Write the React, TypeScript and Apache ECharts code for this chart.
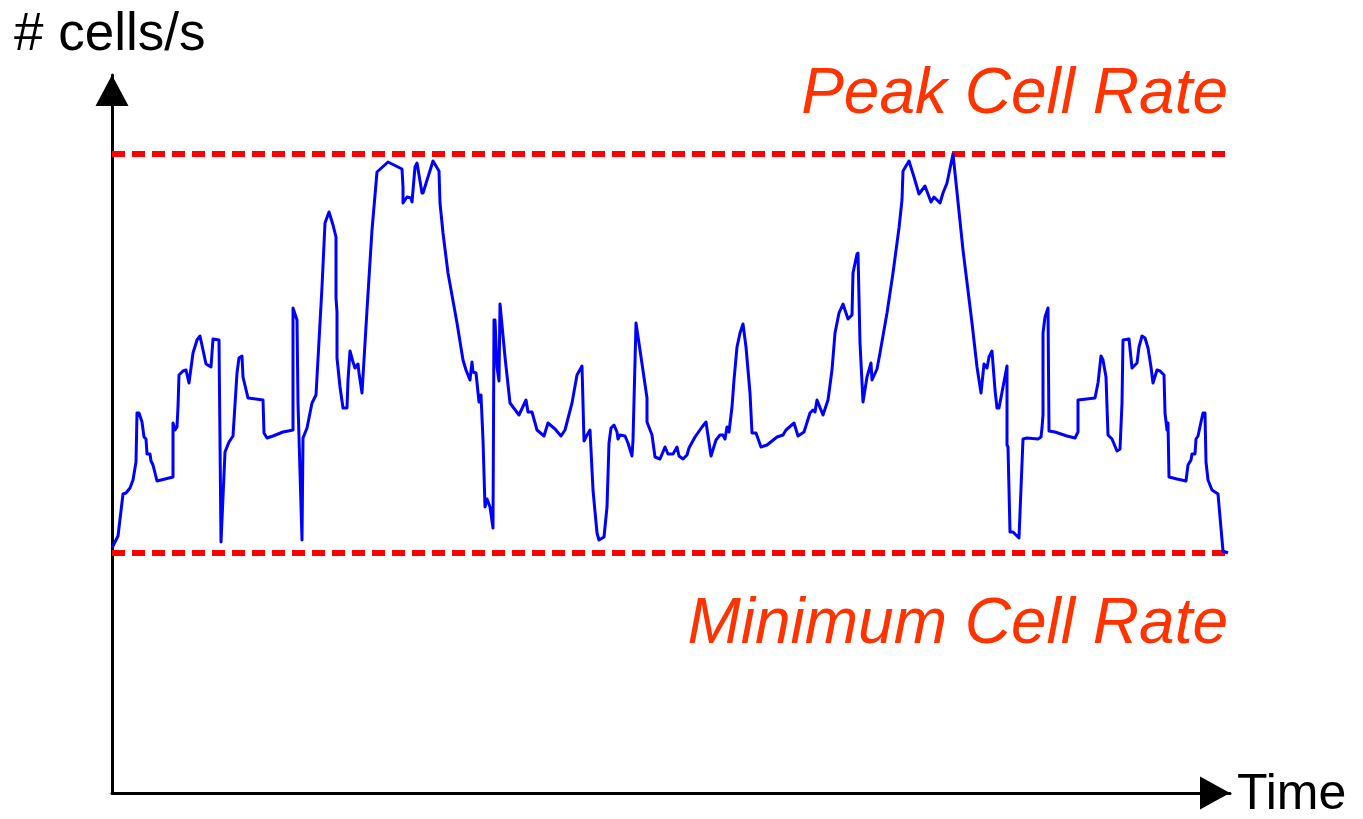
import React, { useEffect, useRef } from "react";
import * as echarts from "echarts";

// Time axis (arbitrary units) and rate axis (cells/s, arbitrary units)
const timeRange = [0, 1118];
const rateRange = [0, 718];

const peakCellRate = 639;
const minimumCellRate = 240;
const dashedLineSpan = [0, 1114];

const axisNames = { y: "# cells/s", x: "Time" };
const rateLabels = { peak: "Peak Cell Rate", minimum: "Minimum Cell Rate" };

// Observed traffic: [time, cells/s]
const trafficSamples: [number, number][] = [
  [0, 245], [6, 257], [11, 299], [14, 300], [18, 305], [21, 313], [24, 331], [25, 380], [27, 380], [30, 371],
  [32, 356], [34, 354], [35, 339], [38, 339], [39, 332], [41, 328], [45, 312], [61, 316], [61, 370], [63, 363],
  [65, 366], [66, 386], [67, 418], [71, 422], [74, 423], [77, 410], [81, 440], [85, 453], [88, 457], [91, 443],
  [94, 429], [99, 426], [101, 454], [107, 453], [109, 251], [113, 341], [117, 351], [121, 357], [125, 420], [127, 435],
  [130, 437], [131, 416], [136, 395], [151, 393], [152, 360], [155, 355], [161, 357], [171, 361], [181, 363], [181, 485],
  [185, 473], [186, 390], [190, 253], [191, 355], [195, 365], [200, 390], [204, 398], [210, 506], [213, 570], [217, 581],
  [221, 568], [224, 556], [224, 495], [225, 481], [225, 435], [228, 406], [231, 385], [235, 385], [236, 413], [238, 442],
  [241, 431], [243, 425], [246, 429], [247, 420], [250, 400], [255, 483], [260, 563], [265, 621], [276, 631], [288, 625],
  [290, 624], [291, 606], [291, 590], [295, 596], [299, 595], [300, 591], [303, 626], [305, 630], [310, 600], [311, 600],
  [321, 632], [327, 622], [328, 590], [331, 560], [336, 520], [345, 470], [351, 433], [354, 423], [358, 413], [360, 431],
  [361, 421], [364, 420], [367, 391], [369, 398], [371, 353], [373, 286], [375, 294], [378, 286], [381, 265], [382, 473],
  [383, 473], [385, 426], [387, 412], [388, 489], [393, 436], [398, 390], [401, 386], [407, 378], [414, 393], [416, 381],
  [420, 381], [425, 363], [432, 357], [436, 370], [443, 364], [449, 357], [453, 363], [460, 390], [465, 418], [470, 427],
  [472, 352], [475, 358], [478, 363], [481, 303], [485, 260], [487, 253], [492, 256], [495, 286], [497, 350], [499, 365],
  [502, 368], [505, 361], [506, 354], [508, 358], [513, 357], [516, 350], [520, 337], [521, 353], [524, 470], [528, 443],
  [535, 395], [535, 371], [540, 358], [543, 336], [548, 334], [553, 346], [556, 339], [561, 339], [565, 346], [567, 337],
  [571, 334], [575, 338], [577, 345], [583, 356], [590, 366], [594, 371], [599, 337], [604, 353], [608, 358], [611, 358],
  [613, 354], [615, 366], [617, 361], [620, 386], [622, 413], [625, 446], [628, 460], [631, 469], [634, 446], [638, 400],
  [640, 360], [644, 360], [649, 346], [655, 348], [665, 356], [671, 358], [674, 363], [682, 370], [686, 357], [692, 361],
  [698, 380], [701, 383], [703, 381], [705, 393], [711, 378], [716, 393], [720, 423], [723, 460], [727, 480], [731, 489],
  [736, 474], [740, 478], [741, 520], [745, 539], [746, 540], [748, 450], [751, 391], [755, 416], [759, 430], [760, 413],
  [765, 424], [768, 440], [775, 480], [781, 520], [787, 565], [790, 593], [791, 622], [797, 632], [802, 616], [807, 599],
  [813, 607], [819, 591], [822, 596], [828, 590], [831, 600], [835, 610], [841, 639], [843, 620], [851, 543], [860, 470],
  [865, 426], [869, 400], [872, 429], [875, 425], [877, 436], [880, 442], [883, 403], [885, 385], [887, 385], [891, 406],
  [895, 427], [895, 370], [895, 348], [896, 346], [898, 261], [901, 261], [907, 255], [911, 354], [915, 355], [926, 354],
  [929, 356], [930, 365], [931, 378], [931, 460], [933, 476], [936, 485], [937, 362], [943, 361], [955, 357], [963, 355],
  [966, 361], [966, 393], [983, 395], [986, 410], [989, 437], [991, 433], [994, 416], [996, 358], [1000, 354], [1005, 342],
  [1008, 344], [1010, 390], [1011, 453], [1017, 454], [1020, 425], [1025, 430], [1027, 446], [1030, 457], [1033, 455], [1036, 445],
  [1039, 426], [1041, 410], [1045, 423], [1048, 422], [1052, 418], [1053, 380], [1055, 363], [1056, 370], [1057, 316], [1065, 314],
  [1074, 312], [1076, 328], [1079, 333], [1080, 339], [1083, 339], [1084, 354], [1086, 357], [1089, 371], [1091, 380], [1093, 380],
  [1094, 331], [1096, 313], [1100, 303], [1106, 299], [1111, 242], [1116, 240],
];

const FONT = '"Liberation Sans", Arial, Helvetica, sans-serif';

export default function App() {
  const ref = useRef<HTMLDivElement>(null);

  useEffect(() => {
    if (!ref.current) return;
    const chart = echarts.init(ref.current, null, { renderer: "svg" });

    const axisCommon = {
      axisTick: { show: false },
      axisLabel: { show: false },
      splitLine: { show: false },
    };

    chart.setOption({
      animation: false,
      backgroundColor: "#ffffff",
      grid: { left: 112, right: 133, top: 75, bottom: 26, containLabel: false },
      xAxis: {
        type: "value",
        min: timeRange[0],
        max: timeRange[1],
        ...axisCommon,
        axisLine: {
          show: true,
          onZero: false,
          symbol: ["none", "triangle"],
          symbolSize: [33, 30],
          symbolOffset: [0, -15],
          lineStyle: { color: "#000000", width: 3 },
        },
      },
      yAxis: {
        type: "value",
        min: rateRange[0],
        max: rateRange[1],
        ...axisCommon,
        axisLine: {
          show: true,
          onZero: false,
          symbol: ["none", "triangle"],
          symbolSize: [33, 31],
          symbolOffset: [0, -15.5],
          lineStyle: { color: "#000000", width: 3 },
        },
      },
      series: [
        {
          name: rateLabels.peak,
          type: "line",
          showSymbol: false,
          silent: true,
          data: [
            [dashedLineSpan[0], peakCellRate],
            [dashedLineSpan[1], peakCellRate],
          ],
          lineStyle: { color: "#ff0000", width: 6, type: [13, 7], cap: "butt" },
          z: 2,
        },
        {
          name: rateLabels.minimum,
          type: "line",
          showSymbol: false,
          silent: true,
          data: [
            [dashedLineSpan[0], minimumCellRate],
            [dashedLineSpan[1], minimumCellRate],
          ],
          lineStyle: { color: "#ff0000", width: 6, type: [13, 7], cap: "butt" },
          z: 2,
        },
        {
          name: "Traffic",
          type: "line",
          showSymbol: false,
          silent: true,
          data: trafficSamples,
          lineStyle: { color: "#0000ff", width: 3, join: "round" },
          z: 3,
        },
      ],
      graphic: [
        {
          type: "text",
          x: 14,
          y: 31,
          style: { text: axisNames.y, font: `53px ${FONT}`, fill: "#000000", align: "left", verticalAlign: "middle" },
        },
        {
          type: "text",
          x: 1237,
          y: 792,
          style: { text: axisNames.x, font: `50px ${FONT}`, fill: "#000000", align: "left", verticalAlign: "middle" },
        },
        {
          type: "text",
          x: 1228,
          y: 91,
          style: { text: rateLabels.peak, font: `italic 64px ${FONT}`, fill: "#ff3300", align: "right", verticalAlign: "middle" },
        },
        {
          type: "text",
          x: 1228,
          y: 620.5,
          style: { text: rateLabels.minimum, font: `italic 64px ${FONT}`, fill: "#ff3300", align: "right", verticalAlign: "middle" },
        },
      ],
    });

    return () => chart.dispose();
  }, []);

  return (
    <div
      ref={ref}
      style={{ position: "fixed", left: 0, top: 0, width: 1363, height: 819, background: "#fff" }}
    />
  );
}
